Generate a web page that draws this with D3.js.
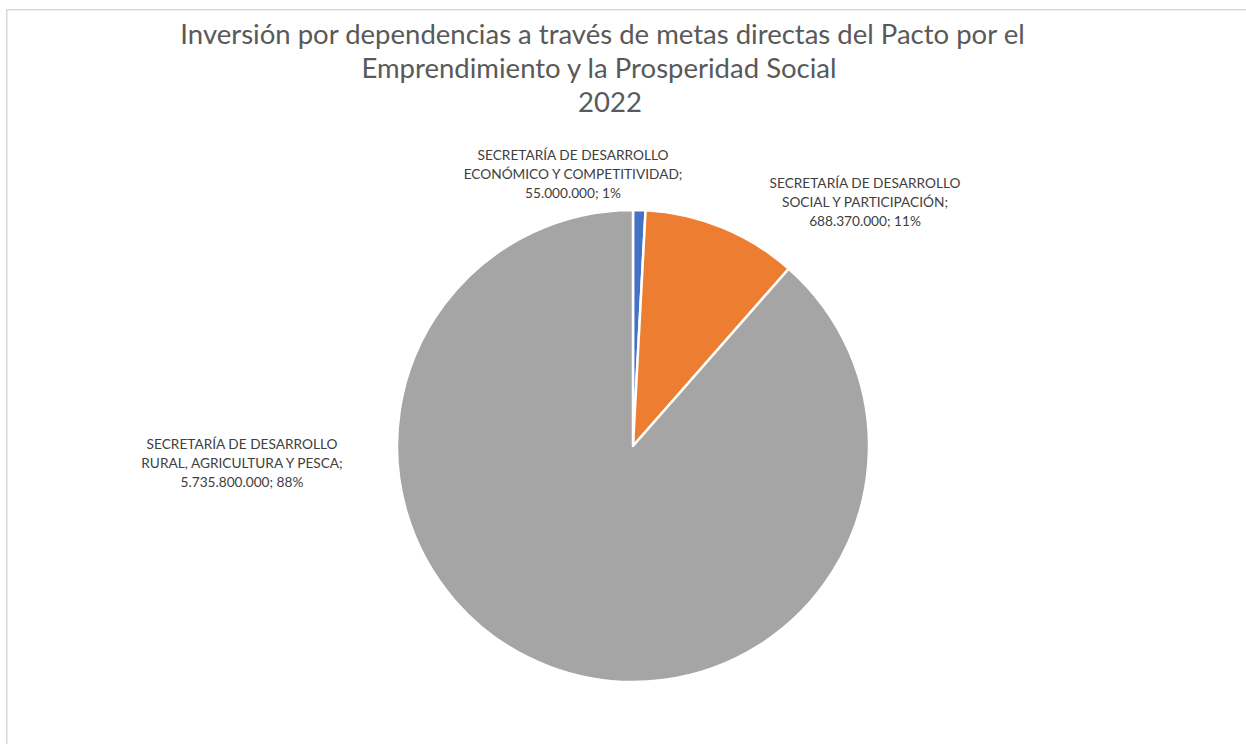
<!DOCTYPE html>
<html>
<head>
<meta charset="utf-8">
<script src="https://cdn.jsdelivr.net/npm/d3@7"></script>
<style>
  body { margin: 0; background: #fff; }
  text { font-family: Lato, "Open Sans", sans-serif; }
</style>
</head>
<body>
<div id="chart"></div>
<script>
// data
var categories = [
  ["SECRETARÍA DE DESARROLLO", "ECONÓMICO Y COMPETITIVIDAD;"],
  ["SECRETARÍA DE DESARROLLO", "SOCIAL Y PARTICIPACIÓN;"],
  ["SECRETARÍA DE DESARROLLO", "RURAL, AGRICULTURA Y PESCA;"]
];
var values = [55000000, 688370000, 5735800000];
var valueLabels = ["55.000.000", "688.370.000", "5.735.800.000"];
var pctLabels = ["1%", "11%", "88%"];
var colors = ["#4472C4", "#ED7D31", "#A5A5A5"];
var titleLines = [
  "Inversión por dependencias a través de metas directas del Pacto por el",
  "Emprendimiento y la Prosperidad Social",
  "2022"
];

//Width and height
var w = 1246;
var h = 744;
var cx = 633, cy = 446, r = 236;

// label anchors relative to pie centre (layout, not data)
var labelPos = [
  { dx: -60, dy: -291 },
  { dx: 232, dy: -263 },
  { dx: -391, dy: -2 }
];
var titlePos = [
  { x: 602.5, y: 44 },
  { x: 599, y: 78 },
  { x: 610, y: 112 }
];

var svg = d3.select("#chart")
  .append("svg")
  .attr("width", w)
  .attr("height", h);

// chart border
svg.append("rect")
  .attr("x", 6.75)
  .attr("y", 9.75)
  .attr("width", w + 20)
  .attr("height", h + 20)
  .style("fill", "none")
  .style("stroke", "#d9d9d9")
  .style("stroke-width", 1.5);

// fit a font size so a string reaches a target width
function fitSize(str, target) {
  var t = svg.append("text").style("font-size", "100px").text(str);
  var len = t.node().getComputedTextLength();
  t.remove();
  return 100 * target / len;
}

var titleSize = fitSize(titleLines[0], 845);
svg.selectAll(".title")
  .data(titleLines)
  .enter()
  .append("text")
  .attr("class", "title")
  .attr("x", function(d, i) { return titlePos[i].x; })
  .attr("y", function(d, i) { return titlePos[i].y; })
  .attr("text-anchor", "middle")
  .style("font-size", titleSize + "px")
  .style("fill", "#595959")
  .text(function(d) { return d; });

var pie = d3.pie().sort(null).value(function(d) { return d; });
var arc = d3.arc().innerRadius(0).outerRadius(r);
var arcs = pie(values);

var g = svg.append("g").attr("transform", "translate(" + cx + "," + cy + ")");

g.selectAll("path")
  .data(arcs)
  .enter()
  .append("path")
  .attr("d", arc)
  .style("fill", function(d, i) { return colors[i]; })
  .style("stroke", "#fff")
  .style("stroke-width", 2.5)
  .style("stroke-linejoin", "round");

// data labels
var labelSize = fitSize("ECONÓMICO Y COMPETITIVIDAD;", 219);
var lineH = 18.8;
arcs.forEach(function(d, i) {
  var lines = categories[i].concat([valueLabels[i] + "; " + pctLabels[i]]);
  var t = g.append("text")
    .attr("text-anchor", "middle")
    .style("font-size", labelSize + "px")
    .style("fill", "#404040");
  lines.forEach(function(l, k) {
    t.append("tspan")
      .attr("x", labelPos[i].dx)
      .attr("y", labelPos[i].dy + k * lineH + labelSize * 0.36)
      .text(l);
  });
});
</script>
</body>
</html>
